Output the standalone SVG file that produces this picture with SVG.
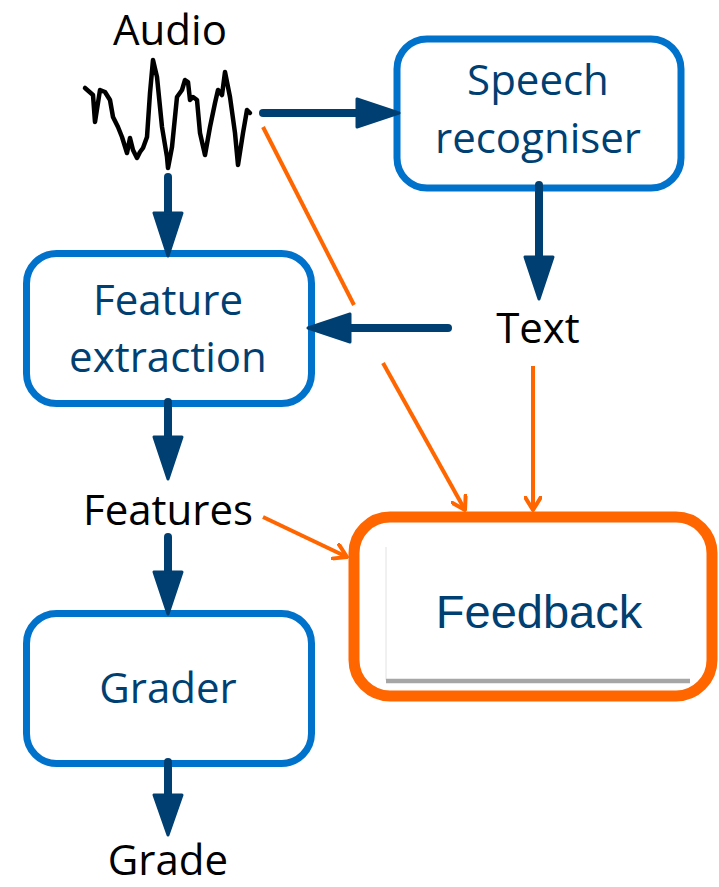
<svg xmlns="http://www.w3.org/2000/svg" width="719" height="887" viewBox="0 0 719 887">
<style>
.box{fill:#fff;stroke:#0072CC;stroke-width:7}
.fb{fill:#fff;stroke:#FF6600;stroke-width:11}
.lbl{font-family:"Open Sans","DejaVu Sans",sans-serif;font-size:42px;text-anchor:middle}
.in{fill:#003F72}
.plain{fill:#000}
.nav{stroke:#003F72;stroke-width:8;stroke-linecap:round;fill:none}
.head{fill:#003F72;stroke:#003F72;stroke-width:3;stroke-linejoin:round}
.org{stroke:#FF6600;stroke-width:4;fill:none}
</style>
<defs>
<marker id="oa" markerUnits="userSpaceOnUse" markerWidth="16" markerHeight="18" viewBox="0 0 16 18" refX="14" refY="9" orient="auto">
<path d="M1,1 L14,9 L1,17" fill="none" stroke="#FF6600" stroke-width="4" stroke-linejoin="round" stroke-linecap="round"/>
</marker>
</defs>

<g id="audio">
<text class="lbl plain" x="170" y="45" font-size="40">Audio</text>
<polyline fill="none" stroke="#000" stroke-width="4.5" stroke-linejoin="round" stroke-linecap="round" points="85,88 93,95 95,122 100,90 105,92 110,100 113,117 118,127 122,137 127,153 130,138 133,150 137,158 140,152 143,148 147,137 150,93 153,60 157,77 162,127 167,157 168,168 172,147 177,97 182,90 185,80 188,82 190,100 193,97 197,100 200,133 205,155 210,127 215,103 218,90 222,95 225,72 230,97 235,133 238,165 243,133 247,110 250,113"/>
</g>

<g id="speech">
<rect class="box" x="397" y="39" width="284" height="149" rx="30"/>
<text class="lbl in" x="538" y="95">Speech</text>
<text class="lbl in" x="538" y="153">recogniser</text>
</g>

<g id="feature">
<rect class="box" x="26.5" y="253.5" width="285" height="150" rx="30"/>
<text class="lbl in" x="168" y="315">Feature</text>
<text class="lbl in" x="168" y="372">extraction</text>
</g>

<g id="text">
<text class="lbl plain" x="538" y="343">Text</text>
</g>

<g id="features">
<text class="lbl plain" x="168" y="525">Features</text>
</g>

<g id="grader">
<rect class="box" x="26.5" y="613.5" width="285" height="150" rx="30"/>
<text class="lbl in" x="168" y="703">Grader</text>
</g>

<g id="grade">
<text class="lbl plain" x="168" y="875" font-size="41">Grade</text>
</g>

<g id="feedback">
<rect class="fb" x="354" y="517" width="358" height="179" rx="36"/>
<line x1="386" y1="547" x2="386" y2="680" stroke="#e2e2e2" stroke-width="1"/>
<line x1="386" y1="681" x2="690" y2="681" stroke="#A6A6A6" stroke-width="4.5"/>
<text x="539" y="628" font-family="'Liberation Sans',Arial,sans-serif" font-size="47" fill="#003F72" text-anchor="middle">Feedback</text>
</g>

<g id="connectors">
<line class="nav" x1="168" y1="177" x2="168" y2="225"/>
<polygon class="head" points="154,213 182,213 168,256"/>
<line class="nav" x1="263" y1="113" x2="370" y2="113"/>
<polygon class="head" points="357,99 357,127 399,113"/>
<line class="nav" x1="539" y1="185" x2="539" y2="270"/>
<polygon class="head" points="525,257 553,257 539,299"/>
<line class="nav" x1="448" y1="328" x2="340" y2="328"/>
<polygon class="head" points="350,314 350,342 308,328"/>
<line class="nav" x1="168" y1="402" x2="168" y2="450"/>
<polygon class="head" points="154,437 182,437 168,479"/>
<line class="nav" x1="168" y1="537" x2="168" y2="585"/>
<polygon class="head" points="154,572 182,572 168,614"/>
<line class="nav" x1="168" y1="762" x2="168" y2="808"/>
<polygon class="head" points="154,795 182,795 168,835"/>
<line class="org" x1="263" y1="127" x2="354" y2="305"/>
<line class="org" x1="383" y1="363" x2="465" y2="510" marker-end="url(#oa)"/>
<line class="org" x1="533" y1="366" x2="533" y2="510" marker-end="url(#oa)"/>
<line class="org" x1="263" y1="517" x2="347" y2="557" marker-end="url(#oa)"/>
</g>
</svg>
